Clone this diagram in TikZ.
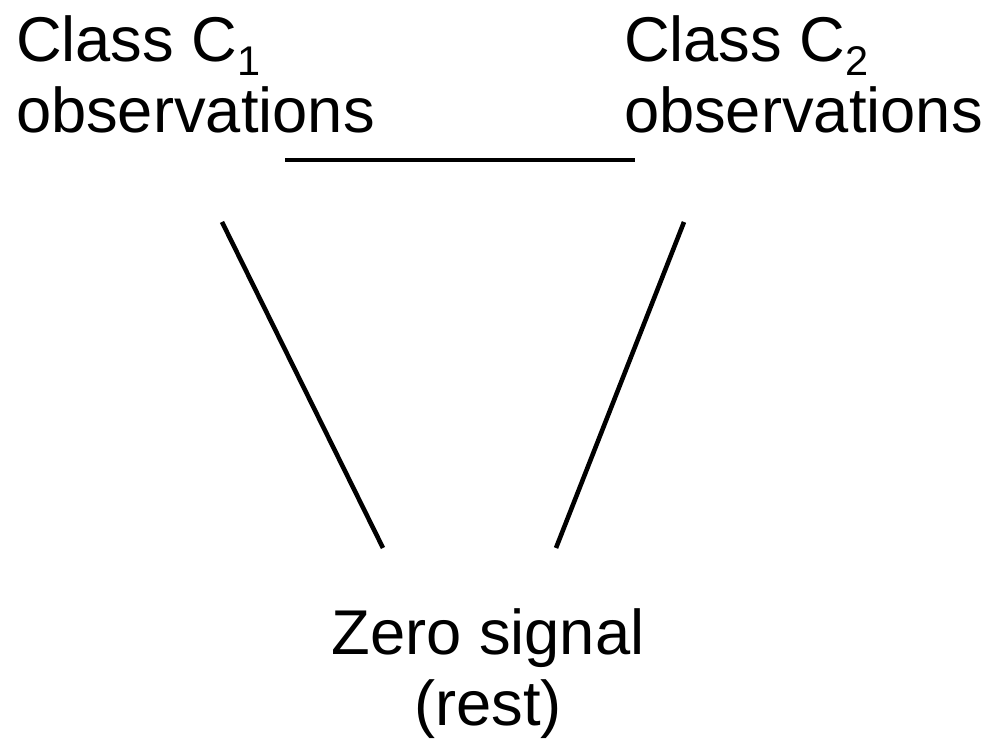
\documentclass[tikz,border=0pt]{standalone}
\usepackage{fontspec}
\setmainfont{Liberation Sans}
\usetikzlibrary{positioning}
\newcommand{\lowsub}[1]{\raisebox{-0.22em}{\fontsize{11.8}{11.8}\selectfont #1}}

\begin{document}
\begin{tikzpicture}[
        label/.style={inner sep=0pt, outer sep=0pt, align=left, font=\fontsize{18}{20.3}\selectfont},
        line/.style={line width=1.3pt},
        x=1cm, y=1cm
    ]
    \useasboundingbox (0,0) rectangle (9.92,7.39);

    % Nodes
    \node[label, anchor=base west] (cone) at (0.16,6.06) {Class C\lowsub{1}\\observations};
    \node[label, anchor=base west] (ctwo) at (6.24,6.06) {Class C\lowsub{2}\\observations};
    \node[label, align=center, anchor=base] (zero) at (4.88,0.13) {Zero signal\\(rest)};

    % End points of the lines
    \coordinate (topl) at (2.85,5.79);
    \coordinate (topr) at (6.35,5.79);
    \coordinate (leftup) at (2.22,5.17);
    \coordinate (leftdown) at (3.83,1.91);
    \coordinate (rightup) at (6.84,5.17);
    \coordinate (rightdown) at (5.56,1.91);

    % Lines
    \draw[line] (topl) -- (topr);
    \draw[line] (leftup) -- (leftdown);
    \draw[line] (rightup) -- (rightdown);
\end{tikzpicture}
\end{document}
